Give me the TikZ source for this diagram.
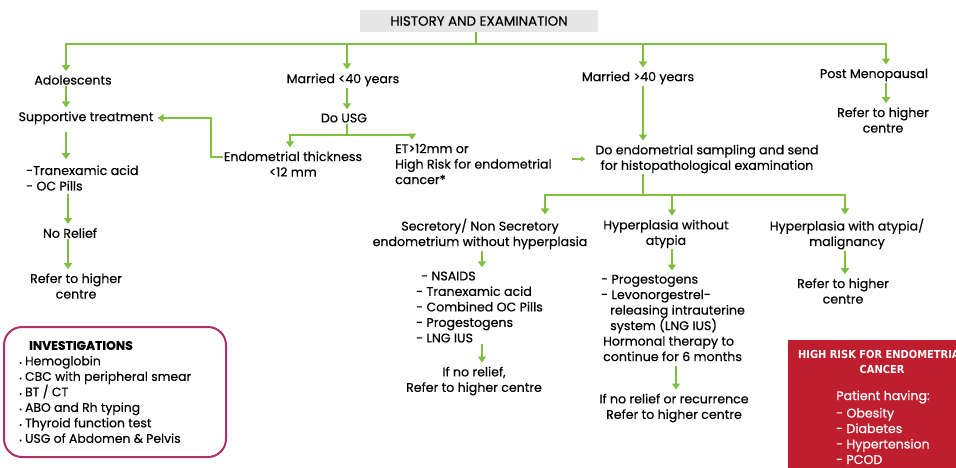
\documentclass[tikz,border=0pt]{standalone}
\usepackage{fontspec}
\setmainfont{Poppins}[FakeBold=0.35]
\newfontfamily\condfont{DejaVu Sans Condensed}
\usetikzlibrary{arrows.meta, positioning}

\definecolor{leaf}{RGB}{128,190,64}
\definecolor{boxgray}{RGB}{230,230,230}
\definecolor{plum}{RGB}{178,46,104}
\definecolor{alarm}{RGB}{190,30,45}

\tikzset{
    txt/.style={font=\fontsize{12.6}{15.5}\selectfont, align=center, inner sep=1pt},
    lst/.style={txt, align=left, anchor=west},
    flow/.style={draw=leaf, line width=2.2pt},
    arr/.style={flow, -{Triangle[width=8pt,length=6pt]}, shorten >=3pt},
}
\newcommand{\dotitem}{{\fontsize{7}{7}\selectfont\textbullet}\hspace{3pt}}

\begin{document}
\begin{tikzpicture}[x=1pt, y=-1pt]
    \clip (0,0) rectangle (956,467);
    \useasboundingbox (0,0) rectangle (956,467);

    \node[txt, font=\fontsize{13.4}{15.5}\selectfont, fill=boxgray, minimum width=238pt, minimum height=22pt] (hist) at (479,21){HISTORY AND EXAMINATION};
    \coordinate (bar) at (476,44);

    \node[txt] (adol)   at (73,80)  {Adolescents};
    \node[txt] (supp)   at (86,118) {Supportive treatment};
    \node[lst] (tran)   at (25,178) {-Tranexamic acid\\- OC Pills};
    \node[txt] (norel)  at (70,233) {No Relief};
    \node[txt] (refa)   at (76,286) {Refer to higher\\centre};

    \node[txt] (mlow)   at (343,80) {Married <40 years};
    \node[txt] (usg)    at (344,118){Do USG};
    \coordinate (usgsplit) at (347,135);
    \node[txt] (etlow)  at (293,164){Endometrial thickness\\<12 mm};
    \node[lst] (ethigh) at (394,164){ET>12mm or\\High Risk for endometrial\\cancer*};

    \node[txt] (mhigh)  at (638,78) {Married >40 years};
    \node[txt] (samp)   at (707,159){Do endometrial sampling and send\\for histopathological examination};
    \coordinate (sampsplit) at (643,195);

    \node[txt] (post)   at (874,75) {Post Menopausal};
    \node[txt] (refb)   at (883,120){Refer to higher\\centre};

    \node[txt] (secr)   at (480,234){Secretory/ Non Secretory\\endometrium without hyperplasia};
    \node[lst] (seclist) at (415,307){\hspace{5pt}- NSAIDS\\- Tranexamic acid\\- Combined OC Pills\\- Progestogens\\- LNG IUS};
    \node[txt] (refc)   at (474,381){If no relief,\\Refer to higher centre};

    \node[txt] (hyp)    at (666,234){Hyperplasia without\\atypia};
    \node[lst] (hyplist) at (600,318){- Progestogens\\- Levonorgestrel-\\\hspace{9pt}releasing intrauterine\\\hspace{9pt}system (LNG IUS)\\\hspace{2pt}Hormonal therapy to\\\hspace{2pt}continue for 6 months};
    \node[txt] (refd)   at (674,408){If no relief or recurrence\\Refer to higher centre};

    \node[txt] (atyp)   at (847,234){Hyperplasia with atypia/\\malignancy};
    \node[txt] (refe)   at (843,291){Refer to higher\\centre};

    % investigations
    \draw[plum, line width=2pt, rounded corners=18pt] (4,327) rectangle (226,457);
    \node[lst, font=\fontsize{12.4}{15.5}\selectfont] (inv) at (18,392)
        {\hspace{10pt}\textbf{INVESTIGATIONS}\\\dotitem Hemoglobin\\\dotitem CBC with peripheral smear\\\dotitem BT / CT\\\dotitem ABO and Rh typing\\\dotitem Thyroid function test\\\dotitem USG of Abdomen \& Pelvis};

    % high risk box
    \fill[alarm] (788,340) rectangle (980,480);
    \node[txt, text=white, font=\condfont\bfseries\fontsize{11}{15}\selectfont] (risk) at (882,362){HIGH RISK FOR ENDOMETRIAL\\CANCER};
    \node[txt, text=white] (pat) at (883,397){Patient having:};
    \node[lst, text=white] (risklist) at (835,436){- Obesity\\- Diabetes\\- Hypertension\\- PCOD};

    % top level
    \draw[flow] (bar |- hist.south) -- (bar);
    \draw[arr] (bar) -| ([xshift=-7pt]adol.north);
    \draw[arr] (bar) -| ([xshift=4pt]mlow.north);
    \draw[arr] (bar) -| ([xshift=5pt]mhigh.north);
    \draw[arr] (bar) -| ([xshift=12pt]post.north);

    % adolescents
    \draw[arr] ([xshift=-7pt]adol.south) -- ([xshift=-7pt]adol.south |- supp.north);
    \draw[arr] ([xshift=-20pt, yshift=-6pt]supp.south) -- ([xshift=41pt, yshift=2pt]tran.north west);
    \draw[arr] ([xshift=-2pt, yshift=-2pt]norel.north |- tran.south) -- ([xshift=-2pt]norel.north);
    \draw[arr] ([xshift=-2pt]norel.south) -- ([xshift=-2pt]norel.south |- refa.north);

    % married < 40
    \draw[arr] ([xshift=4pt]mlow.south) -- ([xshift=4pt]mlow.south |- usg.north);
    \draw[flow] ([xshift=3pt]usg.south) -- (usgsplit);
    \draw[arr] (usgsplit) -| ([xshift=-3pt]etlow.north);
    \draw[arr] (usgsplit) -| ([xshift=18pt]ethigh.north west);
    \draw[arr] ([yshift=7pt]etlow.west) -- ++(-12,0) |- (supp.east);
    \draw[leaf, line width=1.4pt, -{Triangle[width=5pt,length=4pt]}, shorten >=9pt] ([xshift=-22pt]samp.west) -- (samp.west);

    % married > 40
    \draw[arr] ([xshift=5pt]mhigh.south) -- ([xshift=5pt]mhigh.south |- samp.north);
    \draw[flow] (samp.south -| sampsplit) -- (sampsplit);
    \draw[arr] (sampsplit) -| ([xshift=65pt]secr.north);
    \draw[arr] (sampsplit) -| ([xshift=6pt]hyp.north);
    \draw[arr] (sampsplit) -| ([xshift=-2pt]atyp.north);

    % post menopausal
    \draw[arr] ([xshift=12pt]post.south) -- ([xshift=12pt]post.south |- refb.north);

    % histopathology branches
    \draw[arr] ([xshift=2pt]secr.south) -- ([xshift=2pt]secr.south |- seclist.north);
    \draw[arr] ([xshift=8pt]refc.north |- seclist.south) -- ([xshift=8pt]refc.north);
    \draw[arr] ([xshift=6pt]hyp.south) -- ([xshift=6pt]hyp.south |- hyplist.north);
    \draw[arr] ([xshift=2pt, yshift=-4pt]refd.north |- hyplist.south) -- ([xshift=2pt]refd.north);
    \draw[arr] ([xshift=-2pt]atyp.south) -- ([xshift=-2pt]atyp.south |- refe.north);
\end{tikzpicture}
\end{document}
